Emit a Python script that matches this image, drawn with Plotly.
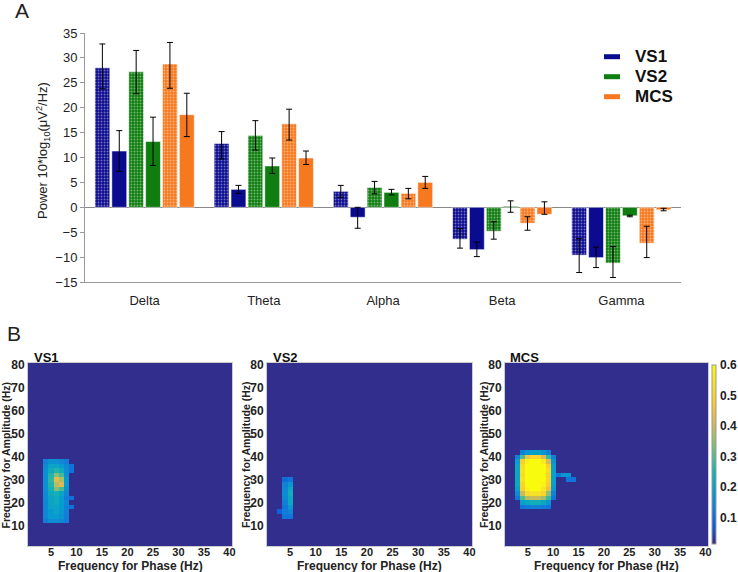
import plotly.graph_objects as go

# ---------------- DATA: panel A (band power) ----------------
bands = ["Delta", "Theta", "Alpha", "Beta", "Gamma"]

VS1_dot_mean = [28.0, 12.8, 3.2, -6.4, -9.6]
VS1_dot_hi   = [32.8, 15.2, 4.4, -4.3, -6.3]
VS1_dot_lo   = [23.8, 9.7, 2.0, -8.2, -13.1]
VS1_sol_mean = [11.3, 3.6, -2.0, -8.5, -10.1]
VS1_sol_hi   = [15.4, 4.4, 0.0, -7.0, -8.0]
VS1_sol_lo   = [7.2, 2.8, -4.2, -9.9, -12.1]
VS2_dot_mean = [27.2, 14.4, 4.0, -4.8, -11.2]
VS2_dot_hi   = [31.5, 17.4, 5.2, -2.9, -7.9]
VS2_dot_lo   = [22.8, 11.5, 2.7, -6.4, -14.1]
VS2_sol_mean = [13.2, 8.3, 3.0, 0.2, -1.7]
VS2_sol_hi   = [18.1, 9.9, 3.6, 1.3, -1.6]
VS2_sol_lo   = [8.4, 6.8, 2.5, -1.0, -1.9]
MCS_dot_mean = [28.8, 16.8, 2.8, -3.2, -7.2]
MCS_dot_hi   = [33.1, 19.7, 3.8, -1.9, -3.8]
MCS_dot_lo   = [23.9, 13.5, 1.7, -4.6, -10.1]
MCS_sol_mean = [18.6, 9.9, 5.0, -1.4, -0.5]
MCS_sol_hi   = [22.9, 11.3, 6.2, 1.1, -0.2]
MCS_sol_lo   = [14.2, 8.6, 3.8, -1.4, -0.7]

groups = ["VS1", "VS2", "MCS"]
group_colors = {"VS1": "#0b0b8f", "VS2": "#0f7d0f", "MCS": "#f7791f"}

# ---------------- DATA: panel B (comodulograms) ----------------
phase_freq = list(range(1, 41))          # Hz
amp_freq = list(range(2, 81, 2))         # Hz
BG = 0.02
cbar_ticks = [0.1, 0.2, 0.3, 0.4, 0.5, 0.6]
cbar_labels = ["0.1", "0.2", "0.3", "0.4", "0.5", "0.6"]
ZMIN, ZMAX = 0.015, 0.6

# rows: amplitude freq -> values over phase columns starting at x0
VS1_x0 = 4
VS1_rows = {
    38: [0.14, 0.17, 0.17, 0.15, 0.13],
    36: [0.16, 0.21, 0.21, 0.19, 0.15, 0.11],
    34: [0.17, 0.23, 0.26, 0.23, 0.16, 0.11],
    32: [0.17, 0.26, 0.34, 0.29, 0.17],
    30: [0.17, 0.27, 0.43, 0.37, 0.19],
    28: [0.17, 0.26, 0.38, 0.42, 0.19],
    26: [0.17, 0.25, 0.34, 0.29, 0.17],
    24: [0.16, 0.23, 0.25, 0.21, 0.15],
    22: [0.16, 0.21, 0.23, 0.19, 0.13, 0.11],
    20: [0.15, 0.21, 0.23, 0.19, 0.15],
    18: [0.15, 0.21, 0.21, 0.19, 0.14, 0.11],
    16: [0.15, 0.19, 0.21, 0.18, 0.14],
    14: [0.15, 0.19, 0.19, 0.17, 0.13],
    12: [0.13, 0.16, 0.16, 0.15, 0.13],
}
VS2_x0 = 3
VS2_rows = {
    30: [BG, 0.10, 0.12],
    28: [BG, 0.14, 0.18],
    26: [BG, 0.15, 0.22],
    24: [BG, 0.16, 0.24],
    22: [BG, 0.15, 0.22],
    20: [BG, 0.14, 0.22],
    18: [BG, 0.12, 0.18],
    16: [0.08, 0.13, 0.15],
    14: [BG, 0.12, 0.12],
}
MCS_x0 = 3
MCS_rows = {
    42: [BG, 0.14, 0.18, 0.20, 0.20, 0.18, 0.14, BG],
    40: [0.14, 0.30, 0.45, 0.50, 0.50, 0.42, 0.28, 0.14],
    38: [0.20, 0.48, 0.58, 0.62, 0.62, 0.56, 0.42, 0.18],
    36: [0.22, 0.52, 0.62, 0.62, 0.62, 0.60, 0.48, 0.20],
    34: [0.22, 0.54, 0.62, 0.62, 0.62, 0.60, 0.52, 0.20],
    32: [0.22, 0.52, 0.62, 0.62, 0.62, 0.60, 0.50, 0.20, 0.12, 0.18, 0.18],
    30: [0.22, 0.54, 0.62, 0.62, 0.62, 0.60, 0.50, 0.20, BG, BG, 0.12, 0.12],
    28: [0.22, 0.50, 0.60, 0.62, 0.62, 0.58, 0.48, 0.20],
    26: [0.20, 0.48, 0.58, 0.60, 0.60, 0.55, 0.45, 0.18],
    24: [0.16, 0.40, 0.52, 0.54, 0.54, 0.50, 0.35, 0.14],
    22: [0.12, 0.30, 0.38, 0.40, 0.40, 0.36, 0.28, 0.12],
    20: [BG, 0.20, 0.22, 0.24, 0.24, 0.22, 0.18, BG],
    18: [BG, 0.12, 0.13, 0.14, 0.14, 0.13, 0.12, BG],
}

parula = [
    [0.0, "rgb(53,42,135)"], [0.1, "rgb(15,92,221)"], [0.2, "rgb(18,125,216)"],
    [0.3, "rgb(7,156,207)"], [0.4, "rgb(21,177,180)"], [0.5, "rgb(89,189,140)"],
    [0.6, "rgb(165,190,107)"], [0.7, "rgb(225,185,82)"], [0.8, "rgb(252,206,46)"],
    [0.9, "rgb(245,227,39)"], [1.0, "rgb(249,251,14)"],
]

W, H = 738, 572
def px(x): return x / W
def py(y): return 1 - y / H

FONT = "Arial, Liberation Sans, sans-serif"

fig = go.Figure()

series = [
    ("VS1", True, VS1_dot_mean, VS1_dot_hi, VS1_dot_lo),
    ("VS1", False, VS1_sol_mean, VS1_sol_hi, VS1_sol_lo),
    ("VS2", True, VS2_dot_mean, VS2_dot_hi, VS2_dot_lo),
    ("VS2", False, VS2_sol_mean, VS2_sol_hi, VS2_sol_lo),
    ("MCS", True, MCS_dot_mean, MCS_dot_hi, MCS_dot_lo),
    ("MCS", False, MCS_sol_mean, MCS_sol_hi, MCS_sol_lo),
]
for name, dotted, mean, hi, lo in series:
    col = group_colors[name]
    marker = dict(color=col, line=dict(color="rgba(255,255,255,0.5)", width=1))
    if dotted:
        marker["pattern"] = dict(shape=".", fgcolor="rgba(255,255,255,0.85)",
                                 bgcolor=col, size=3, solidity=0.3)
    fig.add_trace(go.Bar(
        x=bands, y=mean, marker=marker, showlegend=False,
        error_y=dict(type="data", symmetric=False,
                     array=[h - m for h, m in zip(hi, mean)],
                     arrayminus=[m - l for m, l in zip(mean, lo)],
                     color="black", thickness=1, width=3),
        xaxis="x", yaxis="y"))

# heatmaps
def build(x0, rows):
    z = [[BG] * len(phase_freq) for _ in amp_freq]
    for yc, vals in rows.items():
        i = amp_freq.index(yc)
        for k, v in enumerate(vals):
            z[i][x0 + k - 1] = v
    return z

for idx, (x0, rows) in enumerate([(VS1_x0, VS1_rows), (VS2_x0, VS2_rows), (MCS_x0, MCS_rows)]):
    fig.add_trace(go.Heatmap(
        x=phase_freq, y=amp_freq, z=build(x0, rows), coloraxis="coloraxis",
        xaxis=f"x{idx+2}", yaxis=f"y{idx+2}", zsmooth=False))

CB_TOP, CB_BOT = 365, 544
layout = dict(
    width=W, height=H, margin=dict(l=0, r=0, t=0, b=0, pad=0, autoexpand=False),
    paper_bgcolor="white", plot_bgcolor="white",
    font=dict(family=FONT, color="#222"),
    barmode="group", bargap=0.15, bargroupgap=0.12,
    xaxis=dict(domain=[px(85), px(681)], anchor="y", showline=True, linecolor="#999",
               linewidth=1, ticks="", tickfont=dict(size=13, color="#222"),
               ticklabelstandoff=6, showgrid=False, automargin=False),
    yaxis=dict(domain=[py(282), py(33)], anchor="x", range=[-15, 35], dtick=5,
               showline=True, linecolor="#999", ticks="outside", ticklen=4,
               tickcolor="#999", tickfont=dict(size=13, color="#222"), automargin=False,
               showgrid=False, zeroline=True, zerolinecolor="#888", zerolinewidth=1),
    coloraxis=dict(colorscale=parula, cmin=ZMIN, cmax=ZMAX,
                   colorbar=dict(x=px(712), xanchor="left", thickness=4,
                                 len=(CB_BOT - CB_TOP) / H, lenmode="fraction",
                                 y=py(CB_BOT), yanchor="bottom", outlinewidth=1,
                                 outlinecolor="#999", showticklabels=False,
                                 ticks="", xpad=0, ypad=0)),
)

hm_x = [(28, 232), (267, 472), (505, 708)]
for i, (a, b) in enumerate(hm_x):
    n = i + 2
    layout[f"xaxis{n}"] = dict(domain=[px(a), px(b)], anchor=f"y{n}", range=[0.5, 40.5],
                               tickvals=[5, 10, 15, 20, 25, 30, 35, 40], ticks="",
                               showline=True, mirror=True, linecolor="#ccc",
                               tickfont=dict(size=11, weight="bold", color="#222"),
                               ticklabelstandoff=-4, automargin=False,
                               showgrid=False, zeroline=False)
    layout[f"yaxis{n}"] = dict(domain=[py(546), py(363)], anchor=f"x{n}", range=[1, 81],
                               tickvals=[10, 20, 30, 40, 50, 60, 70, 80], ticks="",
                               showline=True, mirror=True, linecolor="#ccc",
                               tickfont=dict(size=12, weight="bold", color="#222"),
                               ticklabelstandoff=0, automargin=False,
                               showgrid=False, zeroline=False)

fig.update_layout(**layout)

ann = []
ann.append(dict(text="A", x=px(13), y=py(10), xanchor="left", yanchor="middle",
                font=dict(size=21, color="#222")))
ann.append(dict(text="B", x=px(5), y=py(333), xanchor="left", yanchor="middle",
                font=dict(size=21, color="#222")))
ann.append(dict(text="Power 10*log<sub>10</sub>(μV<sup>2</sup>/Hz)", x=px(43), y=py(151),
                textangle=-90, xanchor="center", yanchor="middle",
                font=dict(size=13, color="#222")))
for i, g in enumerate(groups):
    yc = 56.7 + 20 * i
    ann.append(dict(text=g, x=px(633), y=py(yc), xanchor="left", yanchor="middle",
                    font=dict(size=17, weight="bold", color="#111")))
titles_x = [32, 271, 508]
for (a, b), t, tx in zip(hm_x, groups, titles_x):
    ann.append(dict(text=t, x=px(tx), y=py(357), xanchor="left", yanchor="middle",
                    font=dict(size=13, weight="bold", color="#111")))
    ann.append(dict(text="Frequency for Phase (Hz)", x=px((a + b) / 2), y=py(565.5),
                    xanchor="center", yanchor="middle",
                    font=dict(size=12, weight="bold", color="#222")))
for xc in [5.5, 246, 484]:
    ann.append(dict(text="Frequency for Amplitude (Hz)", x=px(xc), y=py(455),
                    textangle=-90, xanchor="center", yanchor="middle",
                    font=dict(size=10.5, weight="bold", color="#222")))
# colorbar tick labels placed on the colorbar's value scale
for v, lab in zip(cbar_ticks, cbar_labels):
    frac = (v - ZMIN) / (ZMAX - ZMIN)
    yy = py(CB_BOT) + frac * (CB_BOT - CB_TOP) / H
    ann.append(dict(text=lab, x=px(718), y=yy, xanchor="left", yanchor="middle",
                    font=dict(size=12, weight="bold", color="#222")))
for a in ann:
    a.update(xref="paper", yref="paper", showarrow=False)
fig.update_layout(annotations=ann)

shapes = []
for i, g in enumerate(groups):
    yc = 56.7 + 20 * i
    shapes.append(dict(type="rect", xref="paper", yref="paper",
                       x0=px(604), x1=px(620), y0=py(yc + 2.5), y1=py(yc - 2.5),
                       fillcolor=group_colors[g], line=dict(width=0)))
fig.update_layout(shapes=shapes)

fig.write_html("out.html", config=dict(displayModeBar=False),
               post_script="document.body.style.margin='0';document.body.style.overflow='hidden';")
